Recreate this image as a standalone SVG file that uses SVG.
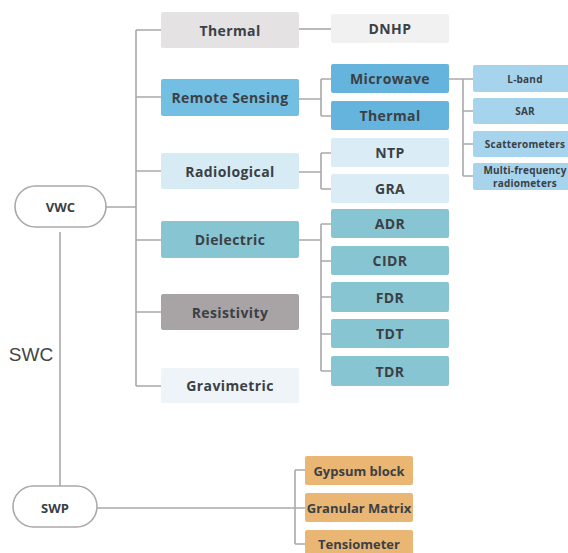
<svg xmlns="http://www.w3.org/2000/svg" width="568" height="553" viewBox="0 0 568 553">
<style>
text{font-family:"Open Sans","Liberation Sans",sans-serif;font-weight:700;fill:#3b4045;text-anchor:middle;dominant-baseline:central}
.b{font-size:14px;letter-spacing:0.4px}
.s{font-size:10px;letter-spacing:0.2px}
.pill{fill:#fff;stroke:#a9a9a9;stroke-width:1.6}
.ln{fill:none;stroke:#a9a9a9;stroke-width:1.6}
rect.n{rx:2}
</style>
<rect width="568" height="553" fill="#fff"/>
<g id="connectors">
<path class="ln" d="M106 207H136M136 30V386M136 30H161M136 97H161M136 171H161M136 240H161M136 312H161M136 386H161"/>
<path class="ln" d="M60 232V487"/>
<path class="ln" d="M299 29H331"/>
<path class="ln" d="M299 99H321M321 79V116M321 79H331M321 116H331"/>
<path class="ln" d="M299 172H321M321 153V189M321 153H331M321 189H331"/>
<path class="ln" d="M299 240H321M321 224V371M321 224H331M321 261H331M321 297H331M321 334H331M321 371H331"/>
<path class="ln" d="M449 79H463M463 79V176M463 79H473M463 111H473M463 144H473M463 176H473"/>
<path class="ln" d="M97 508H305M295 470V544M295 470H305M295 544H305"/>
</g>
<g id="vwc"><rect class="pill" x="15" y="186" width="91" height="41" rx="20.5"/><text x="60.5" y="207" style="font-size:13px">VWC</text></g>
<g id="swp"><rect class="pill" x="13" y="486" width="84" height="41" rx="20.5"/><text x="55" y="508" style="font-size:13px">SWP</text></g>
<g id="swc"><text x="31" y="354" style="font-weight:400;font-size:19px;fill:#444;font-family:'Liberation Sans',sans-serif">SWC</text></g>
<g id="thermal"><rect class="n" x="161" y="12" width="138" height="36" fill="#e4e2e3"/><text class="b" x="230" y="30">Thermal</text></g>
<g id="remote-sensing"><rect class="n" x="161" y="79" width="138" height="37" fill="#73bfe4"/><text class="b" x="230" y="97.5">Remote Sensing</text></g>
<g id="radiological"><rect class="n" x="161" y="153" width="138" height="36" fill="#d7ebf5"/><text class="b" x="230" y="171">Radiological</text></g>
<g id="dielectric"><rect class="n" x="161" y="221" width="138" height="37" fill="#88c5d3"/><text class="b" x="230" y="239.5">Dielectric</text></g>
<g id="resistivity"><rect class="n" x="161" y="294" width="138" height="36" fill="#a8a4a5"/><text class="b" x="230" y="312">Resistivity</text></g>
<g id="gravimetric"><rect class="n" x="161" y="368" width="138" height="35" fill="#eef4f8"/><text class="b" x="230" y="385.5">Gravimetric</text></g>
<g id="dnhp"><rect class="n" x="331" y="14" width="118" height="29" fill="#f2f1f2"/><text class="b" x="390" y="28.5">DNHP</text></g>
<g id="microwave"><rect class="n" x="331" y="64" width="118" height="29" fill="#65b4de"/><text class="b" x="390" y="78.5">Microwave</text></g>
<g id="thermal2"><rect class="n" x="331" y="101" width="118" height="29" fill="#65b4de"/><text class="b" x="390" y="115.5">Thermal</text></g>
<g id="ntp"><rect class="n" x="331" y="138" width="118" height="29" fill="#daedf6"/><text class="b" x="390" y="152.5">NTP</text></g>
<g id="gra"><rect class="n" x="331" y="174" width="118" height="29" fill="#daedf6"/><text class="b" x="390" y="188.5">GRA</text></g>
<g id="adr"><rect class="n" x="331" y="209" width="118" height="29" fill="#88c5d3"/><text class="b" x="390" y="223.5">ADR</text></g>
<g id="cidr"><rect class="n" x="331" y="246" width="118" height="29" fill="#88c5d3"/><text class="b" x="390" y="260.5">CIDR</text></g>
<g id="fdr"><rect class="n" x="331" y="282" width="118" height="30" fill="#88c5d3"/><text class="b" x="390" y="297">FDR</text></g>
<g id="tdt"><rect class="n" x="331" y="319" width="118" height="29" fill="#88c5d3"/><text class="b" x="390" y="333.5">TDT</text></g>
<g id="tdr"><rect class="n" x="331" y="356" width="118" height="30" fill="#88c5d3"/><text class="b" x="390" y="371">TDR</text></g>
<g id="lband"><rect class="n" x="473" y="65" width="100" height="27" fill="#a6d4ed"/><text class="s" x="525" y="78.5">L-band</text></g>
<g id="sar"><rect class="n" x="473" y="98" width="100" height="26" fill="#a6d4ed"/><text class="s" x="525" y="111">SAR</text></g>
<g id="scatterometers"><rect class="n" x="473" y="131" width="100" height="26" fill="#a6d4ed"/><text class="s" x="525" y="144">Scatterometers</text></g>
<g id="multifreq"><rect class="n" x="473" y="163" width="100" height="27" fill="#a6d4ed"/><text class="s" x="525" y="169.5">Multi-frequency</text><text class="s" x="525" y="183">radiometers</text></g>
<g id="gypsum"><rect class="n" x="305" y="456" width="108" height="29" fill="#eab673"/><text class="b" x="359" y="470.5" style="font-size:13px;letter-spacing:0">Gypsum block</text></g>
<g id="granular"><rect class="n" x="305" y="493" width="108" height="29" fill="#eab673"/><text class="b" x="359" y="507.5" style="font-size:13px;letter-spacing:0">Granular Matrix</text></g>
<g id="tensiometer"><rect class="n" x="305" y="530" width="108" height="30" fill="#eab673"/><text class="b" x="359" y="544" style="font-size:13px;letter-spacing:0">Tensiometer</text></g>
</svg>
